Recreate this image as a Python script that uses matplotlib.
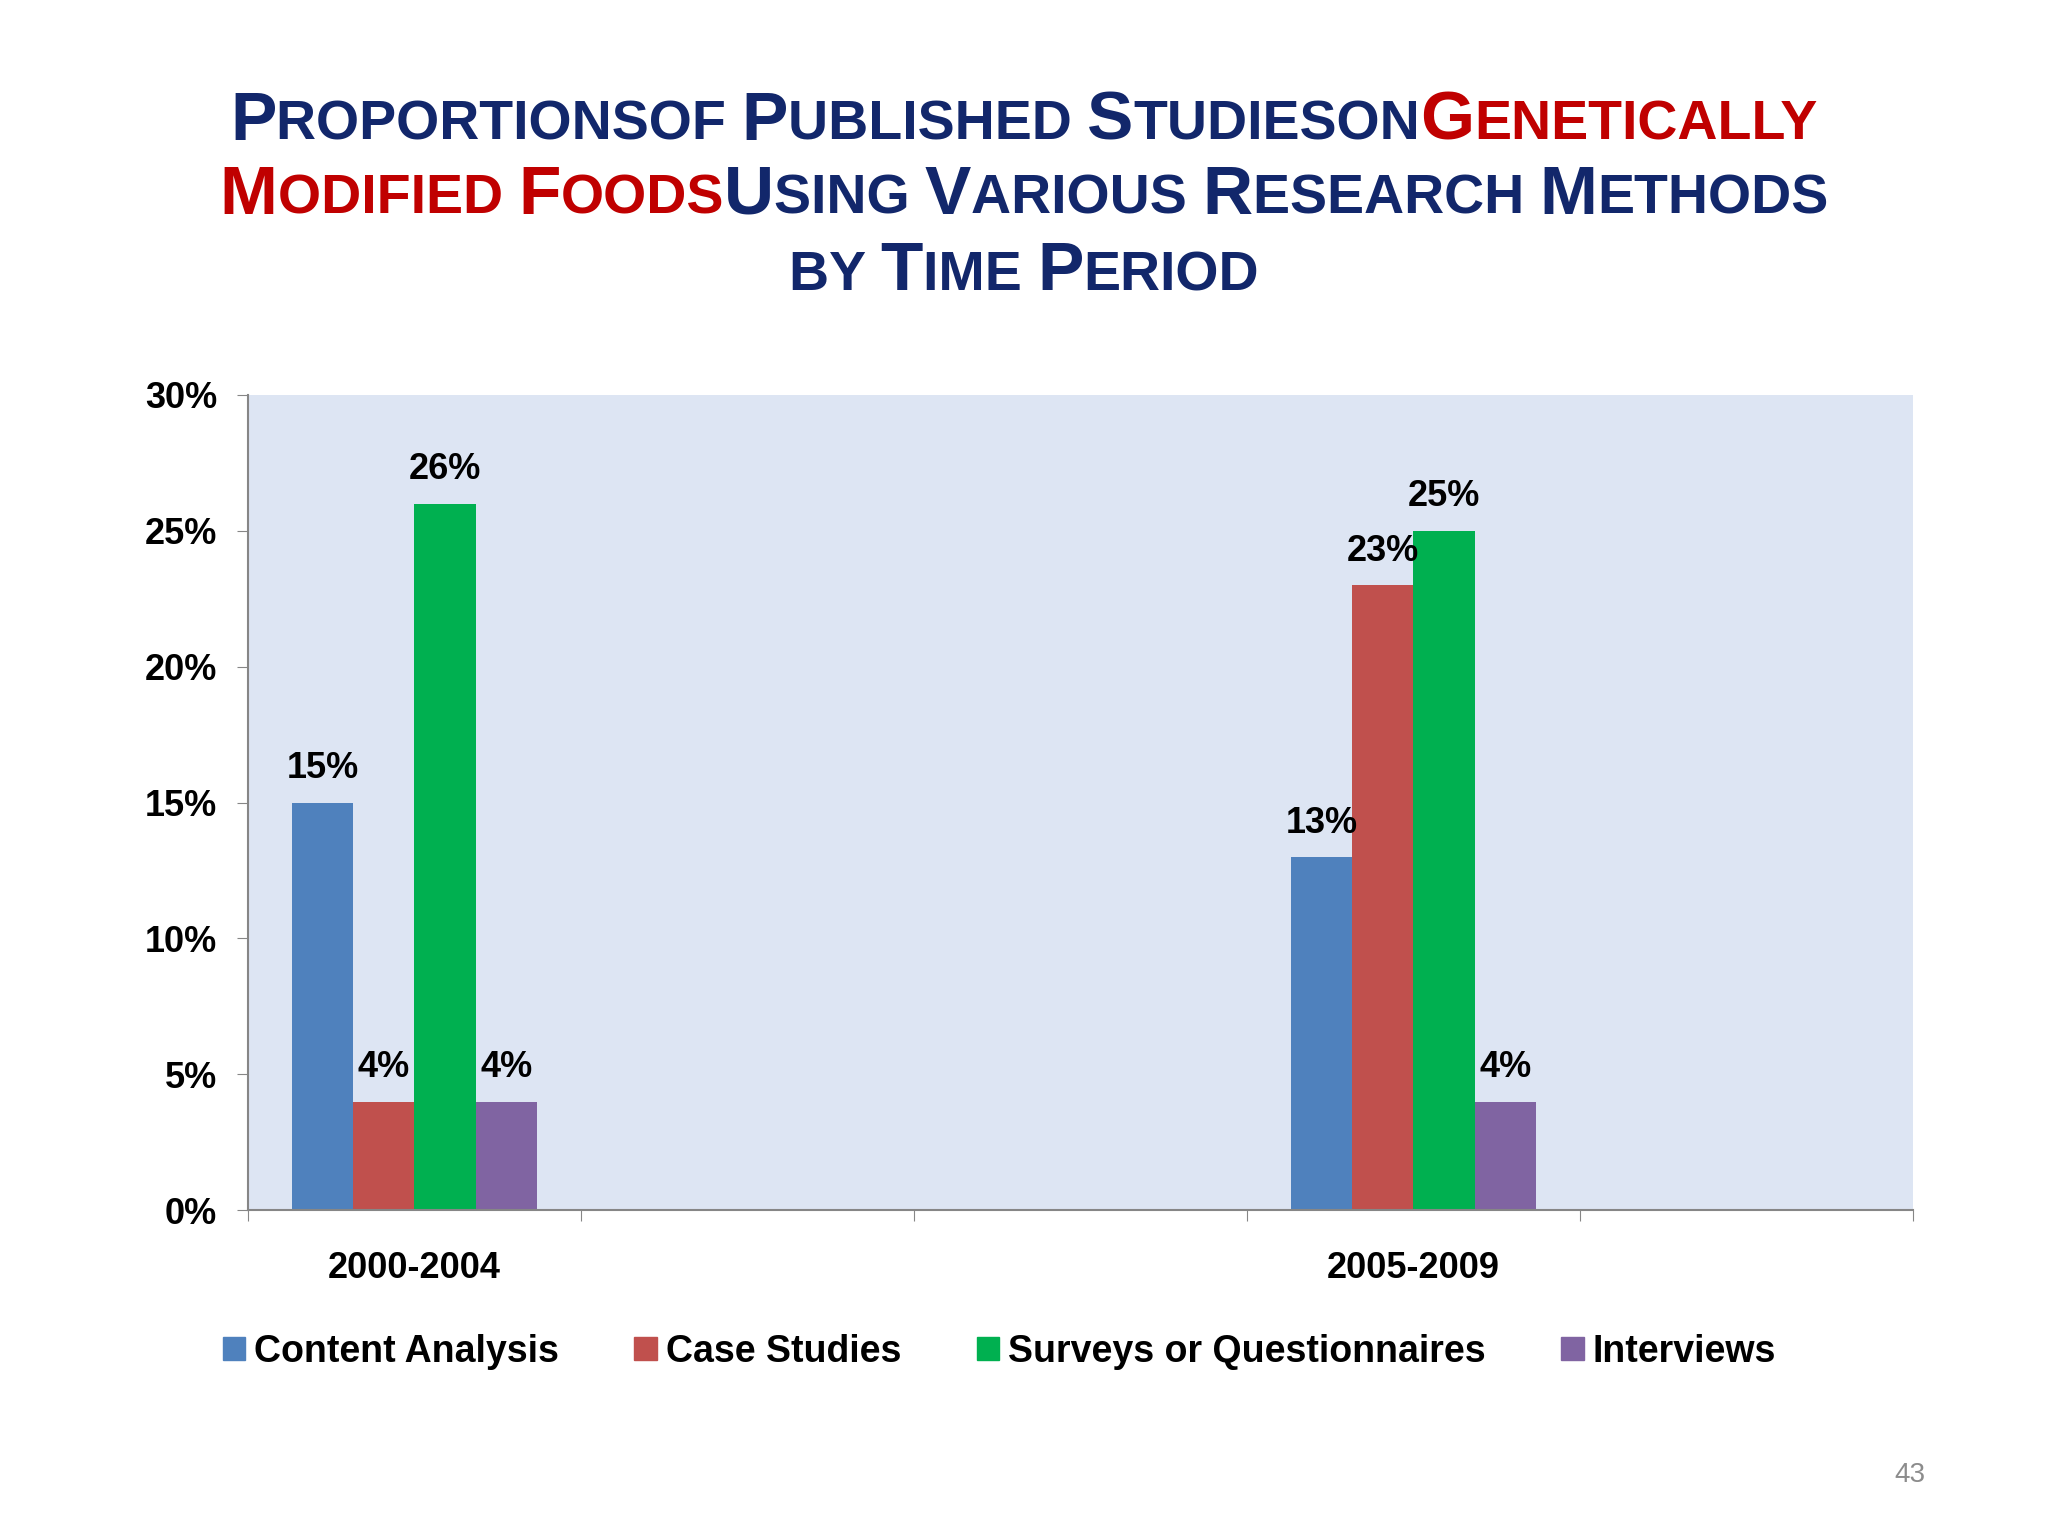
import matplotlib
matplotlib.use("Agg")
import matplotlib.pyplot as plt
import numpy as np

periods = ["2000-2004", "2005-2009"]
series = ["Content Analysis", "Case Studies", "Surveys or Questionnaires", "Interviews"]
values = {
    "Content Analysis": [15, 13],
    "Case Studies": [4, 23],
    "Surveys or Questionnaires": [26, 25],
    "Interviews": [4, 4],
}
colors = ["#4f81bd", "#c0504d", "#00b050", "#8064a2"]
yticks = [0, 5, 10, 15, 20, 25, 30]

plt.rcParams['font.family'] = ['Liberation Sans', 'DejaVu Sans']
fig = plt.figure(figsize=(20.48, 15.36), dpi=100)
ax = fig.add_axes([0.121, 0.212, 0.813, 0.531])
ax.set_facecolor("#dde5f3")
pos = np.array([0, 3])
w = 0.184
for i, s in enumerate(series):
    x = pos + (i - 1.5) * w
    ax.bar(x, values[s], w, color=colors[i], zorder=2)
    for xi, v in zip(x, values[s]):
        ax.text(xi, v + 0.6, f"{v}%", ha="center", va="bottom", fontsize=26, fontweight="bold", zorder=3)
ax.set_xlim(-0.5, 4.5)
ax.set_ylim(0, 30)
ax.set_yticks(yticks)
ax.set_yticklabels([f"{t}%" for t in yticks], fontsize=26, fontweight="bold")
ax.set_xticks(np.arange(-0.5, 5, 1))
ax.set_xticklabels([])
ax.tick_params(axis="both", length=8, color="#868686")
ax.tick_params(axis="y", pad=14)
for p, lab in zip(pos, periods):
    ax.text(p, -2.15, lab, ha="center", va="center", fontsize=26, fontweight="bold")
for sp in ["top", "right"]:
    ax.spines[sp].set_visible(False)
ax.spines["left"].set_color("#868686")
ax.spines["bottom"].set_color("#868686")
ax.spines["left"].set_linewidth(1.5)
ax.spines["bottom"].set_linewidth(1.5)

handles = [plt.Rectangle((0, 0), 1, 1, color=c) for c in colors]
fig.legend(handles, series, loc="center", bbox_to_anchor=(0.488, 0.12), ncol=4,
           frameon=False, prop={"size": 27, "weight": "bold"}, handlelength=0.6,
           handleheight=0.6, handletextpad=0.25, columnspacing=2.0)

navy = "#12276b"
red = "#c00000"
lines = [
    [("P", navy, 1), ("ROPORTIONSOF ", navy, 0), ("P", navy, 1), ("UBLISHED ", navy, 0),
     ("S", navy, 1), ("TUDIESON", navy, 0), ("G", red, 1), ("ENETICALLY", red, 0)],
    [("M", red, 1), ("ODIFIED ", red, 0), ("F", red, 1), ("OODS", red, 0), ("U", navy, 1),
     ("SING ", navy, 0), ("V", navy, 1), ("ARIOUS ", navy, 0), ("R", navy, 1), ("ESEARCH ", navy, 0),
     ("M", navy, 1), ("ETHODS", navy, 0)],
    [("BY ", navy, 0), ("T", navy, 1), ("IME ", navy, 0), ("P", navy, 1), ("ERIOD", navy, 0)],
]
ys = [0.909, 0.861, 0.811]
fig.canvas.draw()
r = fig.canvas.get_renderer()
W = fig.bbox.width
for line, y in zip(lines, ys):
    texts = []
    for s, c, big in line:
        t = fig.text(0, y, s, color=c, fontsize=50 if big else 40, fontweight="bold", va="baseline")
        texts.append(t)
    widths = [t.get_window_extent(r).width / W for t in texts]
    x = 0.5 - sum(widths) / 2
    for t, wd in zip(texts, widths):
        t.set_x(x)
        x += wd
fig.text(0.94, 0.035, "43", color="#8c8c8c", fontsize=20, ha="right")
fig.savefig("out.png", dpi=100)
